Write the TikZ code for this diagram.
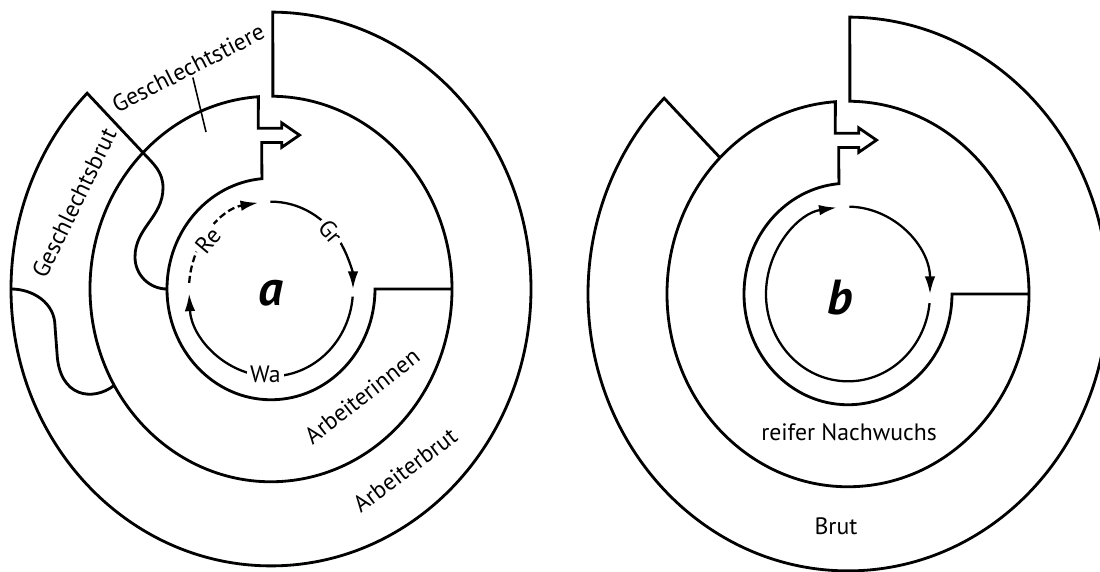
\documentclass[tikz,border=0pt]{standalone}
\usepackage{fontspec}
\setmainfont{PT Sans}
\usetikzlibrary{arrows.meta}
\tikzset{
  wall/.style={
    line width=1.6pt,
    line join=miter,
  },
  cyc/.style={
    line width=1.3pt,
    -{Latex[length=10pt,width=6pt]},
  },
  lbl/.style={
    font=\fontsize{13.5}{16}\selectfont,
    inner sep=1pt,
  },
  tag/.style={
    lbl,
    fill=white,
    inner sep=2pt,
  },
  big/.style={
    font=\fontsize{28}{32}\selectfont\bfseries\itshape,
  }
}

\begin{document}
\begin{tikzpicture}[x=0.02cm, y=0.02cm]
  \useasboundingbox (0,0) rectangle (1100,572);
  \clip (0,0) rectangle (1100,572);

  % colony a
  \begin{scope}[shift={(271,283)}, yscale=1.065]
    \draw[wall] (0:181) -- (0:104)
      arc[start angle=0, end angle=-265, radius=104]
      -- (-9.3,137.5) -- (10.7,137.5) -- (10.7,133) -- (28.5,144.5)
      -- (10.7,156) -- (10.7,151) -- (-12.7,151) -- (94:181)
      arc[start angle=94, end angle=449.4, radius=181]
      -- (89.6:260) arc[start angle=89.6, end angle=-225, radius=260]
      -- (135:181) to[out=-45,in=90] (-108,95)
      to[out=-90,in=90] (-136,30) to[out=-90,in=180] (180:104);
    \draw[wall] (180:260) to[out=0,in=90] (-216,-35) -- (-214,-60)
      .. controls (-212,-102) and (-178,-106) .. (210:181);
    % Gr -> Wa -> Re
    \draw[cyc] (90.5:82) arc[start angle=90.5, end angle=0, radius=82];
    \draw[cyc] (-5:82) arc[start angle=-5, end angle=-177, radius=82];
    \draw[cyc, dash pattern=on 4pt off 2pt] (176:82) arc[start angle=176, end angle=99, radius=82];
    \node[tag, rotate=50] (re) at (144:78) {Re};
    \node[tag, rotate=-50] (gr) at (42:80) {Gr};
    \node[tag] (wa) at (266:80) {Wa};
    \node[big] (la) at (0,-4) {a};
  \end{scope}
  \node[lbl, rotate=27] (tiere) at (188,504) {Geschlechtstiere};
  \coordinate (tierept) at (206,440);
  \draw[line width=0.9pt] (tiere.south) -- (tierept);
  \node[lbl, rotate=64] (gbrut) at (74,369) {Geschlechtsbrut};
  \node[lbl, rotate=38] (innen) at (362,176) {Arbeiterinnen};
  \node[lbl, rotate=37] (abrut) at (405,102) {Arbeiterbrut};

  % colony b
  \begin{scope}[shift={(848,278)}, yscale=1.065]
    \draw[wall] (0:181) -- (0:104)
      arc[start angle=0, end angle=-265, radius=104]
      -- (-9.3,137.5) -- (10.7,137.5) -- (10.7,133) -- (28.5,144.5)
      -- (10.7,156) -- (10.7,151) -- (-12.7,151) -- (94:181)
      arc[start angle=94, end angle=449.4, radius=181]
      -- (89.6:260) arc[start angle=89.6, end angle=-225, radius=260]
      -- (135:181);
    \draw[cyc] (89:82) arc[start angle=89, end angle=0, radius=82];
    \draw[cyc] (-6:82) arc[start angle=-6, end angle=-262, radius=82];
    \node[big] (lb) at (-8,-3) {b};
  \end{scope}
  \node[lbl] (nach) at (849,140) {reifer Nachwuchs};
  \node[lbl] (brut) at (836,46) {Brut};
\end{tikzpicture}
\end{document}
